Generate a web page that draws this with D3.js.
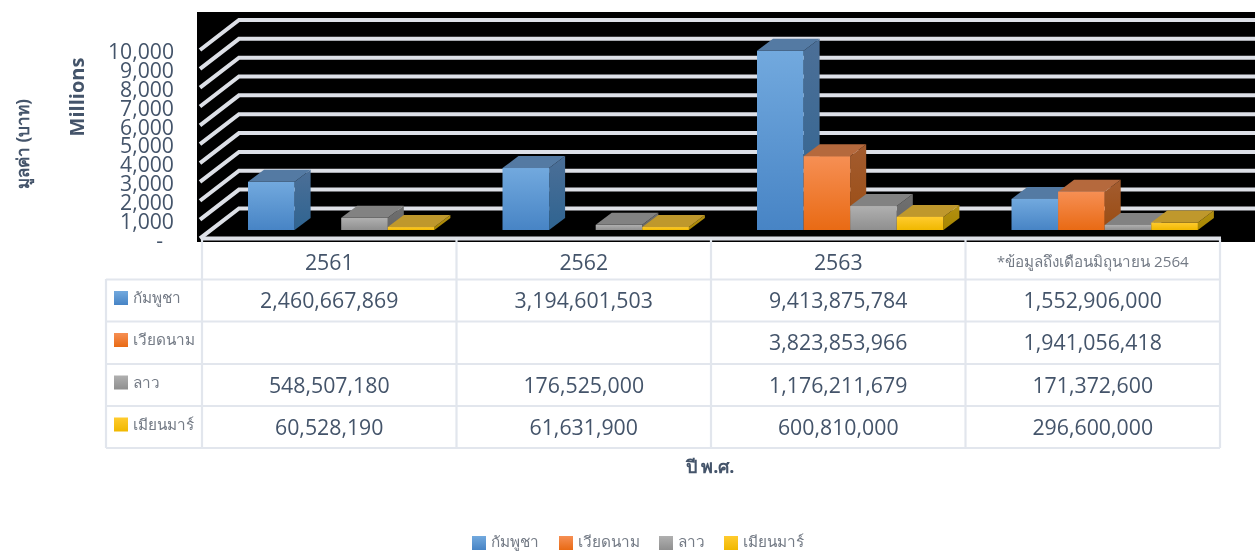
<!DOCTYPE html>
<html><head><meta charset="utf-8">
<script src="https://cdn.jsdelivr.net/npm/d3@7/dist/d3.min.js"></script>
<style>html,body{margin:0;padding:0;background:#fff;overflow:hidden}svg{display:block;filter:blur(.45px)}</style>
</head><body><div id="c"></div>
<script>
const years = ["2561","2562","2563","*ข้อมูลถึงเดือนมิถุนายน 2564"];
const seriesNames = ["กัมพูชา","เวียดนาม","ลาว","เมียนมาร์"];
const cambodia = [2460667869,3194601503,9413875784,1552906000];
const vietnam = [null,null,3823853966,1941056418];
const laos = [548507180,176525000,1176211679,171372600];
const myanmar = [60528190,61631900,600810000,296600000];
const seriesValues = [cambodia,vietnam,laos,myanmar];
const yTicks = [0,1000,2000,3000,4000,5000,6000,7000,8000,9000,10000];
const frontColors = [["#72a9de","#4784c5"],["#f68f54","#e96a14"],["#b0b0b0","#8f8f8f"],["#ffcb2e","#f0b800"]];
const topColors = ["#547aa3","#b5693d","#828282","#bf982c"];
const sideColors = [["#4c6f97","#2f6491"],["#a35c30","#9a4c12"],["#707070","#666"],["#b39012","#a88600"]];

const W=1255,H=551;
const svg=d3.select("#c").append("svg").attr("width",W).attr("height",H).style("font-family","'Open Sans',sans-serif");
const defs=svg.append("defs");
frontColors.forEach((c,i)=>{const g=defs.append("linearGradient").attr("id","f"+i).attr("x1",0).attr("x2",0).attr("y1",0).attr("y2",1);
 g.append("stop").attr("offset",0).attr("stop-color",c[0]);g.append("stop").attr("offset",1).attr("stop-color",c[1]);});
sideColors.forEach((c,i)=>{const g=defs.append("linearGradient").attr("id","s"+i).attr("x1",0).attr("x2",0).attr("y1",0).attr("y2",1);
 g.append("stop").attr("offset",0).attr("stop-color",c[0]);g.append("stop").attr("offset",1).attr("stop-color",c[1]);});

const textC="#44546a", labelC="#737a85", gridC="#dde0e7", tableC="#e2e6ed";
const axisY0=238.4, axisY1=50;
const y=d3.scaleLinear().domain([0,10000]).range([axisY0,axisY1]);
const x=d3.scaleBand().domain(years).range([202,1220]);
const cols=[202,...years.map(d=>x(d)+x.bandwidth())];
const depthX=39, depthY=30;

// backdrop
svg.append("rect").attr("x",197).attr("y",12).attr("width",1058).attr("height",230).attr("fill","#000");
// gridlines
const gl=svg.append("g").attr("fill","none").attr("stroke",gridC).attr("stroke-width",4);
gl.selectAll("path").data(yTicks).join("path")
 .attr("d",d=>`M200,${y(d)}L${200+depthX},${y(d)-depthY}H1255`);
svg.append("line").attr("x1",202).attr("x2",1221).attr("y1",axisY0).attr("y2",axisY0).attr("stroke",gridC).attr("stroke-width",4);

// bars
const barW=46.6, barX0=46, barBase=230, barShift=10.2, sd=16, st=12;
const barsG=svg.append("g");
years.forEach((yr,gi)=>{
 seriesValues.forEach((vals,si)=>{
  const v=vals[gi]; if(v==null) return;
  const xl=x(yr)+barX0+si*barW, xr=xl+barW;
  const yt=y(v/1e6)-barShift, yb=barBase;
  const g=barsG.append("g");
  g.append("polygon").attr("fill",`url(#s${si})`).attr("points",[[xr,yt],[xr+sd,yt-st],[xr+sd,yb-st],[xr,yb]].join(" "));
  g.append("polygon").attr("fill",topColors[si]).attr("points",[[xl,yt],[xl+sd,yt-st],[xr+sd,yt-st],[xr,yt]].join(" "));
  g.append("rect").attr("x",xl).attr("y",yt).attr("width",barW).attr("height",yb-yt).attr("fill",`url(#f${si})`);
 });
});

// y axis
const axis=d3.axisLeft(y).tickValues(yTicks).tickSize(0).tickPadding(0)
 .tickFormat(d=>d===0?"-":d3.format(",")(d));
const ag=svg.append("g").attr("transform","translate(174,2)").call(axis);
ag.select(".domain").remove();
ag.selectAll("text").attr("fill",textC).style("font-size","21.2px").style("font-family","'Open Sans',sans-serif");
ag.selectAll("text").filter(d=>d===0).attr("dx",-11);

// table
const rows=[279.5,321.5,364,406,448];
const tg=svg.append("g").attr("stroke",tableC).attr("stroke-width",2.2);
rows.forEach(r=>tg.append("line").attr("x1",106).attr("x2",1220).attr("y1",r).attr("y2",r));
cols.forEach(c=>tg.append("line").attr("x1",c).attr("x2",c).attr("y1",239).attr("y2",448));
tg.append("line").attr("x1",106).attr("x2",106).attr("y1",279).attr("y2",448);

years.forEach((yr,i)=>{
 svg.append("text").attr("x",x(yr)+x.bandwidth()/2).attr("y",262).attr("dy",".36em").attr("text-anchor","middle")
  .attr("fill",i===3?labelC:textC).style("font-size",i===3?"15.2px":"21.3px").text(yr);
});
const rowC=[300.5,342.5,385,427];
seriesNames.forEach((n,si)=>{
 svg.append("rect").attr("x",114).attr("y",rowC[si]-9.5).attr("width",14).attr("height",14).attr("fill",`url(#f${si})`);
 svg.append("text").attr("x",133).attr("y",rowC[si]-3).attr("dy",".36em").attr("fill",labelC).style("font-size","15.3px").text(n);
 years.forEach((yr,gi)=>{
  const v=seriesValues[si][gi]; if(v==null) return;
  svg.append("text").attr("x",x(yr)+x.bandwidth()/2).attr("y",rowC[si]).attr("dy",".36em").attr("text-anchor","middle")
   .attr("fill",textC).style("font-size","21.3px").text(d3.format(",")(v));
 });
});

// titles
svg.append("text").attr("transform","translate(77,97) rotate(-90)").attr("dy",".36em").attr("text-anchor","middle")
 .attr("fill",textC).style("font-size","20px").style("font-weight",700).text("Millions");
svg.append("text").attr("transform","translate(23,144) rotate(-90)").attr("dy",".36em").attr("text-anchor","middle")
 .attr("fill",textC).style("font-size","17px").style("font-weight",700).text("มูลค่า (บาท)");
svg.append("text").attr("x",710).attr("y",467).attr("dy",".36em").attr("text-anchor","middle")
 .attr("fill",textC).style("font-size","18px").style("font-weight",700).text("ปี พ.ศ.");

// legend
const legX=[472,559,659,724];
seriesNames.forEach((n,i)=>{
 svg.append("rect").attr("x",legX[i]).attr("y",536).attr("width",14).attr("height",14).attr("fill",`url(#f${i})`);
 svg.append("text").attr("x",legX[i]+19).attr("y",541).attr("dy",".36em").attr("fill",labelC).style("font-size","15.3px").text(n);
});
</script></body></html>
